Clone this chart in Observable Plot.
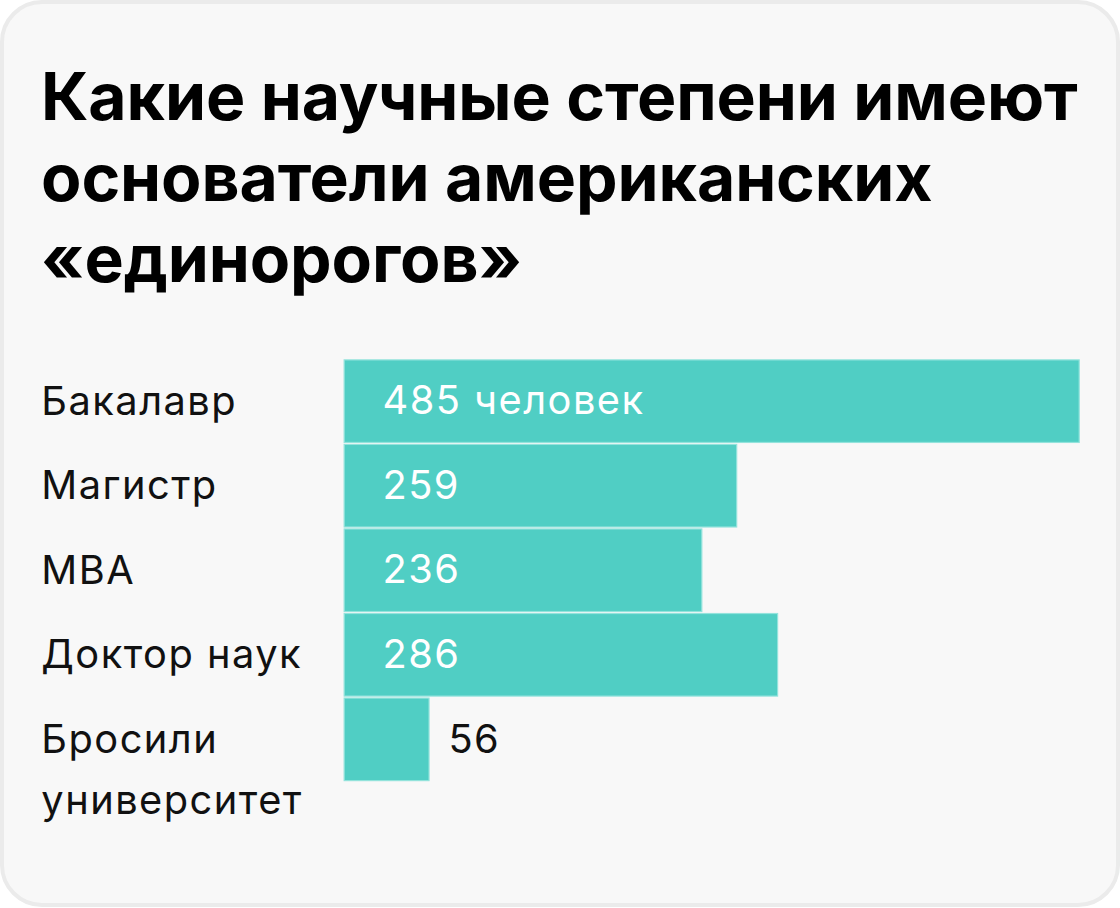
<!DOCTYPE html>
<html>
<head>
<meta charset="utf-8">
<script src="https://cdn.jsdelivr.net/npm/d3@7"></script>
<script src="https://cdn.jsdelivr.net/npm/@observablehq/plot@0.6"></script>
<style>
  html, body { margin: 0; padding: 0; background: #ffffff; }
  #card {
    position: absolute; left: 0; top: 0; width: 1120px; height: 907px;
    box-sizing: border-box; border: 4px solid #ebebeb; border-radius: 42px;
    background: #f8f8f8; overflow: hidden;
  }
  #title {
    position: absolute; left: 37px; top: 52px; margin: 0;
    font-family: Inter, "Noto Sans", sans-serif; font-weight: 700;
    font-size: 66px; line-height: 81px; color: #000; letter-spacing: -0.1px;
  }
  #chart { position: absolute; left: -2px; top: 336px; }
  #chart svg { overflow: visible; }
  #chart text { letter-spacing: 1.5px; }
</style>
</head>
<body>
<div id="card">
  <h1 id="title">Какие научные степени имеют<br>основатели американских<br>«единорогов»</h1>
  <div id="chart"></div>
</div>
<script>
const categories = ["Бакалавр", "Магистр", "MBA", "Доктор наук", "Бросили\nуниверситет"];
const values = [485, 259, 236, 286, 56];
const valueLabels = ["485 человек", "259", "236", "286", "56"];

const data = categories.map((c, i) => ({cat: c, value: values[i], label: valueLabels[i], inside: values[i] >= 100}));

const chart = Plot.plot({
  width: 1120,
  height: 480,
  marginLeft: 344,
  marginRight: 37,
  marginTop: 20,
  marginBottom: 37,
  style: {background: "transparent", fontFamily: "Inter, 'Noto Sans', sans-serif"},
  x: {domain: [0, 485], axis: null},
  y: {domain: categories, axis: null, paddingInner: 0.024, paddingOuter: 0},
  marks: [
    Plot.barX(data, {y: "cat", x: "value", fill: "#50cec4", stroke: "#93e3dc", strokeWidth: 1.2}),
    Plot.text(data, {y: "cat", text: "cat", frameAnchor: "left", dx: -305, textAnchor: "start",
      lineAnchor: "top", dy: -31, lineHeight: 1.55, fontSize: 40, fill: "#111"}),
    Plot.text(data.filter(d => d.inside), {y: "cat", x: 0, text: "label", dx: 38, textAnchor: "start",
      fontSize: 40, fill: "#ffffff"}),
    Plot.text(data.filter(d => !d.inside), {y: "cat", x: "value", text: "label", dx: 19, textAnchor: "start",
      fontSize: 40, fill: "#111"})
  ]
});
document.getElementById("chart").appendChild(chart);
</script>
</body>
</html>
